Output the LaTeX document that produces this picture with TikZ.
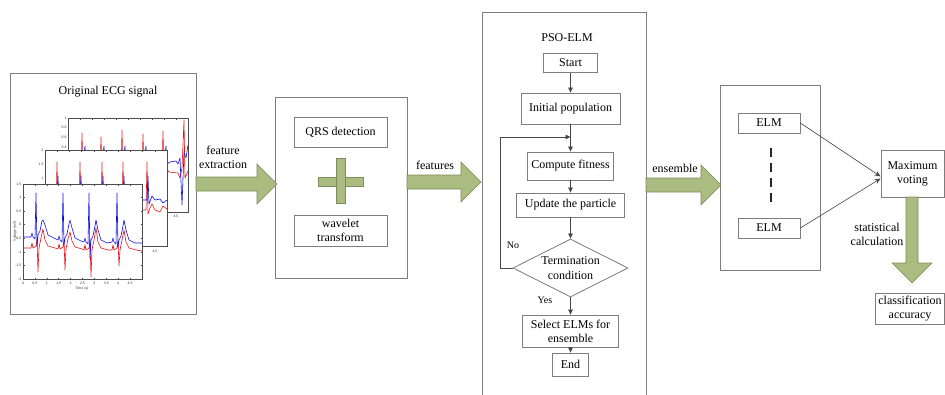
\documentclass[tikz,border=0pt]{standalone}
\usepackage{fontspec}
\setmainfont{Liberation Serif}
\newfontfamily\axfont{Liberation Sans}
\usetikzlibrary{arrows.meta,shapes.geometric,calc}
\definecolor{gfill}{RGB}{170,188,128}
\definecolor{gline}{RGB}{125,140,90}
\definecolor{boxline}{RGB}{125,125,125}
\definecolor{flowline}{RGB}{70,70,70}
\definecolor{ecgblue}{RGB}{15,15,225}
\definecolor{ecgred}{RGB}{225,20,20}
\newcommand{\gharrow}[3]{% start x, tip x, centre y
  \draw[garrow] (#1,#3-7) -- (#2-20,#3-7) -- (#2-20,#3-20) -- (#2,#3) -- (#2-20,#3+20) -- (#2-20,#3+7) -- (#1,#3+7) -- cycle;}
\begin{document}
\begin{tikzpicture}[x=1pt,y=-1pt,
  txt/.style={font=\fontsize{12}{14}\selectfont, align=center, inner sep=0pt},
  panel/.style={draw=boxline, line width=0.8pt, inner sep=0pt, anchor=north west},
  fbox/.style={draw=boxline, line width=0.8pt, inner sep=0pt, fill=white, font=\fontsize{12}{14}\selectfont, align=center},
  arr/.style={draw=flowline, line width=0.7pt, -{Triangle[length=5pt,width=4.5pt]}},
  thinarr/.style={draw=flowline, line width=0.6pt, -{Stealth[length=6pt,width=5pt]}},
  garrow/.style={fill=gfill, draw=gline, line width=0.6pt, line join=miter},
  axframe/.style={draw=black!70, line width=0.5pt},
  ticklbl/.style={font=\axfont\fontsize{3.5}{4}\selectfont, inner sep=0.3pt, text=black!80},
  sig/.style={line width=0.6pt, line join=round},
]
\useasboundingbox (0,0) rectangle (945,394);
\fill[white] (0,0) rectangle (945,394);

% ---------------- panels
\node[panel, minimum width=186pt, minimum height=241pt] (ecgpanel) at (10,73) {};
\node[panel, minimum width=132pt, minimum height=181pt] (prepanel) at (275,97) {};
\node[panel, minimum width=164pt, minimum height=400pt] (psopanel) at (482,12) {};
\node[panel, minimum width=100pt, minimum height=185pt] (elmpanel) at (720,85) {};

% ---------------- ECG panel
\node[txt] (ecgtitle) at (108,92) {Original ECG signal};

% back plot
\fill[white] (68,118) rectangle (188,212);
\begin{scope}
  \clip (68,118) rectangle (188,212);
  \draw[sig, ecgred] (68,172) \foreach \r/\p in {82/133,101/137,122/130,143/134,163/131}{ -- (\r-1,172) -- (\r,\p) -- (\r+1,175) -- (\r+3,168) -- (\r+6,172)} -- (178,173) -- (180,178) -- (182,168) -- (184,120) -- (185,178) -- (188,171);
  \draw[sig, ecgblue] (68,162) \foreach \r in {82,101,122,143,163}{ -- (\r+1,162) -- (\r+3,146) -- (\r+4,164) -- (\r+7,162)} -- (176,161) -- (178,164) -- (180,158) -- (182,205) -- (184,152) -- (186,158) -- (188,145);
\end{scope}
\draw[axframe] (68,118) rectangle (188,212);
\foreach \i in {1,...,9} \draw[axframe] (68+\i*12,118) -- ++(0,1.5);
\foreach \v/\yy [count=\k] in {1/118,0.8/127.7,0.6/137.4,0.4/147}
  \node[ticklbl, anchor=east, name=bl\k] at (67,\yy) {\v};
\node[ticklbl, name=bx] at (176,216.5) {4.5};

% middle plot
\fill[white] (45,150) rectangle (167,246);
\begin{scope}
  \clip (45,150) rectangle (167,246);
  \draw[sig, ecgred] (45,210) \foreach \r in {57,80,102,123,147}{ -- (\r-1,210) -- (\r,162) -- (\r+1,214) -- (\r+3,208) -- (\r+5,204) -- (\r+8,210)} -- (160,212) -- (163,206) -- (167,209);
  \draw[sig, ecgblue] (45,200) \foreach \r in {57,80,102,123,147}{ -- (\r,200) -- (\r+1,176) -- (\r+2,204) -- (\r+5,196) -- (\r+8,200)} -- (160,199) -- (163,203) -- (167,200);
\end{scope}
\draw[axframe] (45,150) rectangle (167,246);
\foreach \i in {1,...,9} \draw[axframe] (45+\i*12.2,150) -- ++(0,1.5);
\foreach \v/\yy [count=\k] in {2/150,1.5/164,1/178}
  \node[ticklbl, anchor=east, name=ml\k] at (44,\yy) {\v};
\node[ticklbl, name=mx] at (155,251) {4.5};

% front plot
\fill[white] (23,184) rectangle (142,279);
\begin{scope}
  \clip (23,184) rectangle (142,279);
  \draw[sig, ecgred] (23,248) \foreach \r/\b/\d/\t in {37/248/272/229,64/249/270/232,90/250/277/228,118/250/266/230}{ -- (\r-6,\b) -- (\r-5,\b-5) -- (\r-4,\b) -- (\r-1,\b-2) -- (\r,\b-9) -- (\r+1,\d) -- (\r+2,\b) -- (\r+4,\b-10) -- (\r+6,\t) -- (\r+8,\b-8) -- (\r+11,\b-2) -- (\r+18,\b)} -- (142,251);
  \draw[sig, ecgblue] (23,237) \foreach \r/\b/\d in {36/237/246,63/240/245,89/242/258,117/242/247}{ -- (\r-5,\b) -- (\r-4,\b-4) -- (\r-3,\b) -- (\r-1,\b+2) -- (\r,193) -- (\r+1,\d) -- (\r+2,\b-2) -- (\r+4,\b-6) -- (\r+6,\b-16) -- (\r+7,220) -- (\r+9,\b-12) -- (\r+12,\b-2) -- (\r+18,\b+1)} -- (142,243);
\end{scope}
\draw[axframe] (23,184) rectangle (142,279);
\foreach \i in {1,...,9} {
  \draw[axframe] (23+\i*11.9,279) -- ++(0,-1.5);
  \draw[axframe] (23+\i*11.9,184) -- ++(0,1.5);
}
\foreach \i in {1,...,6} {
  \draw[axframe] (23,184+\i*13.57) -- ++(1.5,0);
  \draw[axframe] (142,184+\i*13.57) -- ++(-1.5,0);
}
\foreach \v [count=\k from 0] in {1.5,1,0.5,0,-0.5,-1,-1.5,-2}
  \node[ticklbl, anchor=east, name=fl\k] at (21.8,184+\k*13.57) {\v};
\foreach \v [count=\k from 0] in {0,0.5,1,1.5,2,2.5,3,3.5,4,4.5}
  \node[ticklbl, name=fx\k] at (23+\k*11.9,283.5) {\v};
\node[ticklbl, name=fxt] at (82,288.5) {Time (s)};
\node[ticklbl, rotate=90, name=fyt] at (15,231) {Voltage (mV)};

% ---------------- arrow 1
\gharrow{196}{277}{184}
\node[txt] (lblfe) at (223,157) {feature\\extraction};

% ---------------- preprocessing panel
\node[fbox, minimum width=93pt, minimum height=30pt] (qrs) at (340.5,132) {QRS detection};
\node[fbox, minimum width=93pt, minimum height=31pt] (wav) at (340.5,230.5) {wavelet\\transform};
\draw[garrow] (318,177) rectangle (363,186);
\draw[garrow] (336,158) rectangle (345,203);

% ---------------- arrow 2
\gharrow{407}{481}{182}
\node[txt] (lblf) at (435,165) {features};

% ---------------- PSO-ELM flowchart
\node[txt] (psotitle) at (567,38) {PSO-ELM};
\node[fbox, minimum width=54pt, minimum height=19pt] (start) at (570.5,63) {Start};
\node[fbox, minimum width=99pt, minimum height=31pt] (init) at (570.5,108.5) {Initial population};
\node[fbox, minimum width=86pt, minimum height=28pt] (comp) at (570.5,166) {Compute fitness};
\node[fbox, minimum width=108pt, minimum height=24pt] (upd) at (570.5,205) {Update the particle};
\node[draw=boxline, line width=0.8pt, fill=white, diamond, aspect=2, minimum width=115pt, minimum height=58pt, inner sep=0pt, font=\fontsize{12}{15}\selectfont, align=center] (dia) at (570.5,268) {Termination\\condition};
\node[fbox, minimum width=96pt, minimum height=32pt] (sel) at (570.5,331) {Select ELMs for\\ensemble};
\node[fbox, minimum width=36pt, minimum height=23pt] (fin) at (570.5,364.5) {End};
\coordinate (loopin) at (570.5,137);
\draw[arr] (start) -- (init);
\draw[arr] (init) -- (comp);
\draw[arr] (comp) -- (upd);
\draw[arr] (upd) -- (dia);
\draw[arr] (dia) -- (sel);
\draw[arr] (sel) -- (fin);
\draw[arr] (dia.west) -- ++(-12,0) |- (loopin);
\node[font=\fontsize{10}{12}\selectfont, inner sep=0pt] (no) at (513,245) {No};
\node[font=\fontsize{10}{12}\selectfont, inner sep=0pt] (yes) at (545,300) {Yes};

% ---------------- arrow 3
\gharrow{646}{721}{185}
\node[txt] (lble) at (675,168) {ensemble};

% ---------------- ELM ensemble
\node[fbox, minimum width=62pt, minimum height=20pt] (elma) at (769,123) {ELM};
\node[fbox, minimum width=62pt, minimum height=20pt] (elmb) at (769,228) {ELM};
\draw[black!85, line width=1.2pt, dash pattern=on 9pt off 6pt] ($(elma.south)+(2,15)$) -- ($(elmb.north)+(2,-15)$);
\node[fbox, minimum width=63pt, minimum height=47pt] (mv) at (912.5,173.5) {Maximum\\voting};
\node[fbox, minimum width=69pt, minimum height=31pt] (acc) at (910,308.5) {classification\\accuracy};
\draw[thinarr] (elma.east) -- ($(mv.west)+(0,3)$);
\draw[thinarr] (elmb.east) -- ($(mv.west)+(0,5)$);

% down arrow
\draw[garrow] (906,197) -- (906,263) -- (892,263) -- (912,283) -- (932,263) -- (918,263) -- (918,197) -- cycle;
\node[txt] (lblsc) at (877,234.5) {statistical\\calculation};
\end{tikzpicture}
\end{document}
